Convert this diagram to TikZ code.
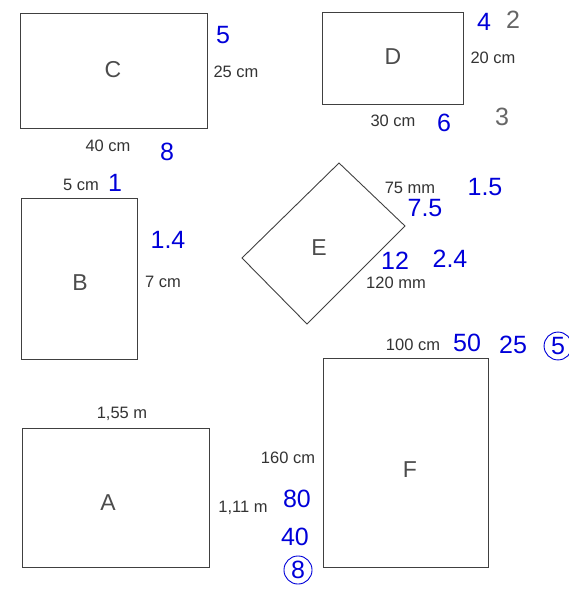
\documentclass[tikz,border=0pt]{standalone}
\usepackage{fontspec}
\setmainfont{Liberation Sans}
\begin{document}
\begin{tikzpicture}[x=1pt,y=-1pt,
  figline/.style={draw=black!75,line width=0.9pt},
  dim/.style={text=black!80,font=\fontsize{16.5}{18}\selectfont,inner sep=0pt},
  lbl/.style={text=black!70,font=\fontsize{23}{25}\selectfont,inner sep=0pt},
  hw/.style={text=blue!85!black,font=\fontsize{25}{27}\selectfont,inner sep=0pt},
  pen/.style={text=black!60,font=\fontsize{25}{27}\selectfont,inner sep=0pt},
  ring/.style={draw=blue!85!black,line width=0.9pt,circle,inner sep=2pt}]
\useasboundingbox (0,0) rectangle (569,589);
% C
\draw[figline] (20,13) rectangle (207,128);
\node[lbl] (lC) at (113,70) {C};
\node[dim] (c1) at (236,72) {25 cm};
\node[dim] (c2) at (108,146) {40 cm};
\node[hw] (c3) at (223,35) {5};
\node[hw] (c4) at (167,152) {8};
% D
\draw[figline] (322,12) rectangle (463,104);
\node[lbl] (lD) at (393,57) {D};
\node[dim] (d1) at (493,58) {20 cm};
\node[dim] (d2) at (393,121) {30 cm};
\node[hw] (d3) at (484,22) {4};
\node[pen] (d4) at (513,20) {2};
\node[hw] (d5) at (444,123) {6};
\node[pen] (d6) at (502,117) {3};
% B
\node[dim] (b0) at (81,185) {5 cm};
\node[hw] (b1) at (115,183) {1};
\draw[figline] (21,198) rectangle (137,359);
\node[lbl] (lB) at (80,283) {B};
\node[dim] (b2) at (163,282) {7 cm};
\node[hw] (b3) at (168,240) {1.4};
% E
\draw[figline] (339,163) -- (405,226) -- (307,324) -- (242,258) -- cycle;
\node[lbl] (lE) at (319,248) {E};
\node[dim] (e1) at (410,188) {75 mm};
\node[hw] (e2) at (425,208) {7.5};
\node[hw] (e3) at (485,187) {1.5};
\node[hw] (e4) at (395,261) {12};
\node[hw] (e5) at (450,259) {2.4};
\node[dim] (e6) at (396,283) {120 mm};
% A
\node[dim] (a1) at (122,414) {1,55 m};
\draw[figline] (22,428) rectangle (209,567);
\node[lbl] (lA) at (108,503) {A};
\node[dim] (a2) at (243,508) {1,11 m};
% F
\node[dim] (f1) at (413,345) {100 cm};
\node[hw] (f2) at (467,343) {50};
\node[hw] (f3) at (513,345) {25};
\node[hw,ring] (f4) at (558,346) {5};
\draw[figline] (323,358) rectangle (488,567);
\node[lbl] (lF) at (410,470) {F};
\node[dim] (f5) at (288,458) {160 cm};
\node[hw] (f6) at (297,499) {80};
\node[hw] (f7) at (295,537) {40};
\node[hw,ring] (f8) at (298,570) {8};
\end{tikzpicture}
\end{document}
